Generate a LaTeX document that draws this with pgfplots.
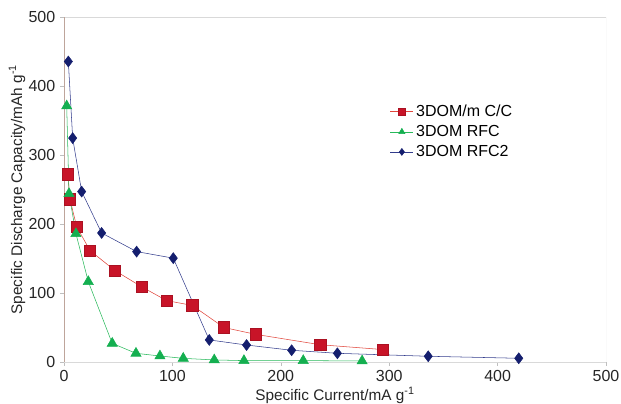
\documentclass[border=0pt]{standalone}
\usepackage{pgfplots}
\pgfplotsset{compat=1.18}
\usepackage{fontspec}
\setmainfont{Liberation Sans}
\definecolor{redm}{RGB}{200,20,40}
\definecolor{redl}{RGB}{225,70,60}
\definecolor{greenm}{RGB}{20,175,80}
\definecolor{greenl}{RGB}{40,185,90}
\definecolor{bluem}{RGB}{20,30,110}
\definecolor{bluel}{RGB}{50,60,140}
\begin{document}
\begin{tikzpicture}
\begin{axis}[
  scale only axis,
  width=406.5pt, height=258.75pt,
  xmin=0, xmax=500, ymin=0, ymax=500,
  xtick={0,100,...,500}, ytick={0,100,...,500},
  font=\fontsize{12pt}{14pt}\selectfont,
  tick label style={font=\fontsize{12pt}{14pt}\selectfont, text=black!85},
  label style={font=\fontsize{11.5pt}{14pt}\selectfont, text=black!85},
  /pgf/number format/assume math mode=true,
  xlabel={Specific Current/mA g\textsuperscript{-1}},
  ylabel={Specific Discharge Capacity/mAh g\textsuperscript{-1}},
  xlabel style={inner sep=1pt, yshift=0.5pt},
  ylabel style={inner sep=1pt, yshift=-2pt},
  axis line style={draw=black!15},
  axis x line*=bottom, axis y line*=left,
  tick align=outside, major tick length=3pt,
  tick style={draw=black!25},
  legend style={at={(axis cs:297,381)}, anchor=north west, draw=none, fill=none,
    font=\fontsize{12pt}{14pt}\selectfont, row sep=1.2pt},
  legend image post style={mark size=2.6pt},
  legend cell align=left,
]
\coordinate (sw) at (rel axis cs:0,0);
\coordinate (ne) at (rel axis cs:1,1);
\draw[black!15] (rel axis cs:0,1) -- (rel axis cs:1,1) -- (rel axis cs:1,0);
\draw[draw={rgb,255:red,190;green,165;blue,155}] (rel axis cs:0,0) -- (rel axis cs:0,1);
\draw[black!25] (rel axis cs:0,0) -- (rel axis cs:1,0);
\addplot[redl, thin, mark=square*, mark size=4.3pt, mark options={fill=redm, draw=redm!85!black, solid}]
coordinates {(3.4,272) (5.5,236) (11.7,196) (24,161.5) (47,132.5) (71.6,109) (94.7,89) (118.3,82) (147.5,50) (177,40) (236.6,25) (294.3,18)};
\addlegendentry{3DOM/m C/C}
\addplot[greenl, thin, mark=triangle*, mark size=4.4pt, mark options={fill=greenm, draw=greenm, solid}]
coordinates {(2.5,371) (4.6,244) (11,186) (22.4,116.5) (44.5,27) (66.4,12.6) (88.5,8.7) (110,5.3) (138.6,3) (166,2) (220.7,2) (275,1.5)};
\addlegendentry{3DOM RFC}
\addplot[bluel, thin, mark=diamond*, mark size=4.1pt, mark options={fill=bluem, draw=bluem, solid}]
coordinates {(4,435.5) (8,324.5) (16.3,247) (34.7,187) (67,160) (100.8,150.5) (134,32) (168.4,24.6) (210,17) (252.2,12.6) (336,8.3) (419.5,5.4)};
\addlegendentry{3DOM RFC2}
\end{axis}
\pgfresetboundingbox
\path ([xshift=-48pt,yshift=-31.5pt]sw) rectangle ([xshift=11.25pt,yshift=12.75pt]ne);
\end{tikzpicture}
\end{document}
